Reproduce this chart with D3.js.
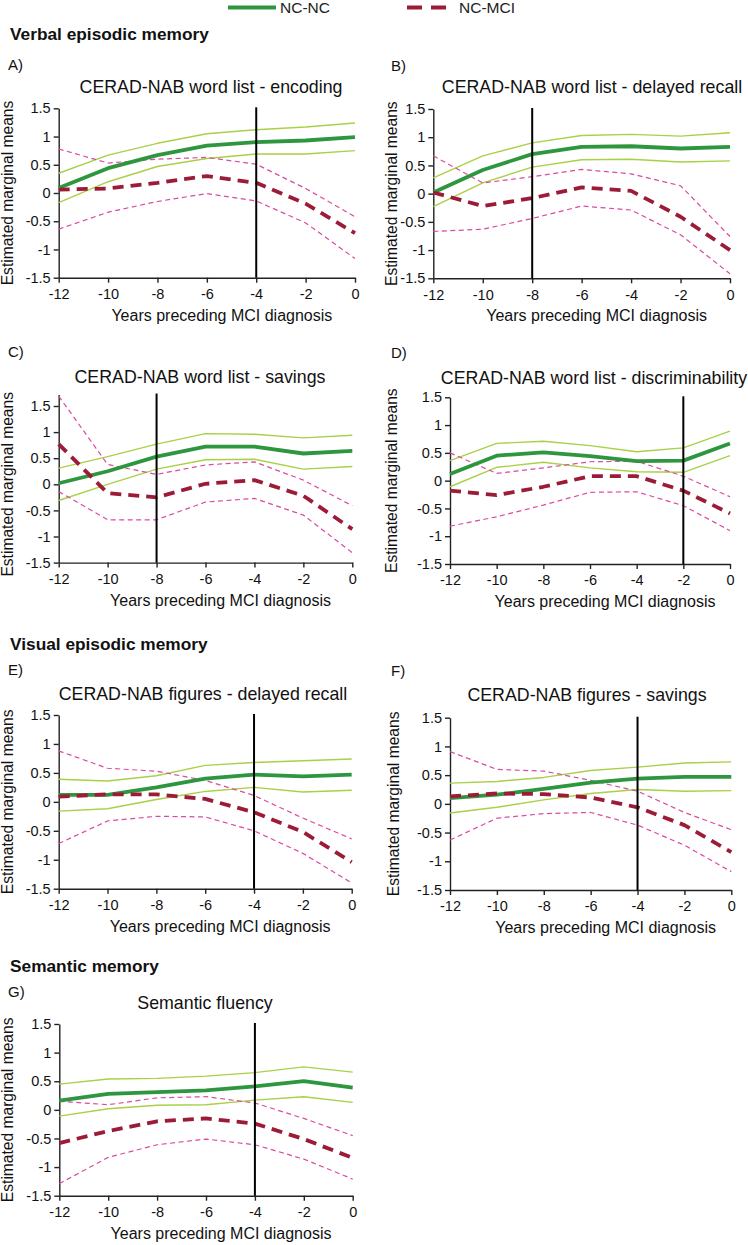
<!DOCTYPE html>
<html>
<head>
<meta charset="utf-8">
<script src="https://cdn.jsdelivr.net/npm/d3@7"></script>
<style>
  html, body { margin: 0; padding: 0; background: #fff; }
  svg { display: block; font-family: "Liberation Sans", Arial, sans-serif; }
</style>
</head>
<body>
<svg id="chart" width="748" height="1245"></svg>
<script>
// ---------- DATA ----------
const years = [-12, -10, -8, -6, -4, -2, 0];
const yTicks = [-1.5, -1, -0.5, 0, 0.5, 1, 1.5];
const xTicks = [-12, -10, -8, -6, -4, -2, 0];
const seriesNames = ["NC-NC", "NC-MCI"];
const sectionTitles = ["Verbal episodic memory", "Visual episodic memory", "Semantic memory"];
const panelLetters = ["A)", "B)", "C)", "D)", "E)", "F)", "G)"];
const panelTitles = [
  "CERAD-NAB word list - encoding",
  "CERAD-NAB word list - delayed recall",
  "CERAD-NAB word list - savings",
  "CERAD-NAB word list - discriminability",
  "CERAD-NAB figures - delayed recall",
  "CERAD-NAB figures - savings",
  "Semantic fluency"
];
const diagnosisYear = [-4, -8, -8, -2, -4, -4, -4];
const xAxisTitle = "Years preceding MCI diagnosis";
const yAxisTitle = "Estimated marginal means";

// A) encoding
const A_ncnc   = [0.09, 0.44, 0.67, 0.84, 0.90, 0.93, 0.99];
const A_ncncHi = [0.35, 0.67, 0.88, 1.05, 1.12, 1.17, 1.24];
const A_ncncLo = [-0.17, 0.20, 0.47, 0.61, 0.69, 0.69, 0.75];
const A_mci    = [0.06, 0.08, 0.18, 0.30, 0.18, -0.19, -0.71];
const A_mciHi  = [0.78, 0.53, 0.60, 0.63, 0.51, 0.08, -0.42];
const A_mciLo  = [-0.64, -0.34, -0.15, -0.01, -0.14, -0.53, -1.16];
// B) delayed recall
const B_ncnc   = [0.02, 0.42, 0.70, 0.83, 0.84, 0.80, 0.83];
const B_ncncHi = [0.28, 0.67, 0.90, 1.03, 1.05, 1.02, 1.08];
const B_ncncLo = [-0.23, 0.19, 0.47, 0.60, 0.61, 0.56, 0.58];
const B_mci    = [0.02, -0.22, -0.08, 0.11, 0.05, -0.41, -1.00];
const B_mciHi  = [0.67, 0.19, 0.30, 0.43, 0.35, 0.14, -0.76];
const B_mciLo  = [-0.67, -0.63, -0.44, -0.22, -0.29, -0.73, -1.42];
// C) savings
const C_ncnc   = [0.02, 0.25, 0.53, 0.72, 0.72, 0.59, 0.64];
const C_ncncHi = [0.31, 0.53, 0.77, 0.97, 0.96, 0.89, 0.94];
const C_ncncLo = [-0.31, 0.00, 0.29, 0.47, 0.48, 0.29, 0.34];
const C_mci    = [0.77, -0.17, -0.25, 0.01, 0.08, -0.22, -0.86];
const C_mciHi  = [1.69, 0.38, 0.19, 0.37, 0.43, 0.08, -0.41];
const C_mciLo  = [-0.14, -0.68, -0.68, -0.34, -0.27, -0.59, -1.31];
// D) discriminability
const D_ncnc   = [0.12, 0.45, 0.51, 0.44, 0.35, 0.36, 0.67];
const D_ncncHi = [0.36, 0.67, 0.71, 0.63, 0.52, 0.59, 0.89];
const D_ncncLo = [-0.11, 0.24, 0.33, 0.23, 0.16, 0.15, 0.45];
const D_mci    = [-0.18, -0.26, -0.11, 0.08, 0.08, -0.18, -0.59];
const D_mciHi  = [0.50, 0.13, 0.23, 0.34, 0.35, 0.08, -0.29];
const D_mciLo  = [-0.82, -0.65, -0.44, -0.21, -0.20, -0.45, -0.90];
// E) figures delayed recall
const E_ncnc   = [0.12, 0.12, 0.25, 0.40, 0.47, 0.44, 0.47];
const E_ncncHi = [0.39, 0.36, 0.45, 0.63, 0.68, 0.71, 0.74];
const E_ncncLo = [-0.16, -0.12, 0.04, 0.18, 0.25, 0.17, 0.20];
const E_mci    = [0.09, 0.13, 0.13, 0.05, -0.18, -0.52, -1.04];
const E_mciHi  = [0.88, 0.58, 0.53, 0.37, 0.11, -0.28, -0.64];
const E_mciLo  = [-0.72, -0.33, -0.25, -0.26, -0.50, -0.89, -1.40];
// F) figures savings
const F_ncnc   = [0.10, 0.16, 0.26, 0.37, 0.44, 0.47, 0.47];
const F_ncncHi = [0.36, 0.39, 0.46, 0.58, 0.64, 0.71, 0.73];
const F_ncncLo = [-0.16, -0.06, 0.07, 0.18, 0.25, 0.22, 0.23];
const F_mci    = [0.13, 0.18, 0.17, 0.11, -0.06, -0.37, -0.84];
const F_mciHi  = [0.91, 0.60, 0.57, 0.41, 0.22, -0.15, -0.45];
const F_mciLo  = [-0.63, -0.25, -0.17, -0.15, -0.37, -0.72, -1.18];
// G) semantic fluency
const G_ncnc   = [0.16, 0.28, 0.31, 0.34, 0.41, 0.50, 0.39];
const G_ncncHi = [0.45, 0.54, 0.55, 0.59, 0.65, 0.75, 0.66];
const G_ncncLo = [-0.11, 0.02, 0.08, 0.09, 0.17, 0.23, 0.13];
const G_mci    = [-0.58, -0.37, -0.20, -0.15, -0.24, -0.51, -0.84];
const G_mciHi  = [0.15, 0.09, 0.21, 0.23, 0.12, -0.15, -0.45];
const G_mciLo  = [-1.29, -0.83, -0.61, -0.51, -0.61, -0.86, -1.21];

// ---------- LAYOUT / STYLE ----------
const panelData = [
  [A_ncnc, A_ncncHi, A_ncncLo, A_mci, A_mciHi, A_mciLo],
  [B_ncnc, B_ncncHi, B_ncncLo, B_mci, B_mciHi, B_mciLo],
  [C_ncnc, C_ncncHi, C_ncncLo, C_mci, C_mciHi, C_mciLo],
  [D_ncnc, D_ncncHi, D_ncncLo, D_mci, D_mciHi, D_mciLo],
  [E_ncnc, E_ncncHi, E_ncncLo, E_mci, E_mciHi, E_mciLo],
  [F_ncnc, F_ncncHi, F_ncncLo, F_mci, F_mciHi, F_mciLo],
  [G_ncnc, G_ncncHi, G_ncncLo, G_mci, G_mciHi, G_mciLo]
];
// plot boxes: x0,x1 (x=-12..0), yLo (pixel for -1.5), yHi (pixel for 1.5), top domain value
const layout = [
  { x0: 58.7, x1: 355,   yLo: 277.7, yHi: 108.3, top: 1.5,  lx: 8,   ly: 70,  tx: 211, ty: 92.5, ylx: 13 },
  { x0: 433.3, x1: 730,  yLo: 278.3, yHi: 109,   top: 1.5,  lx: 391, ly: 71,  tx: 592, ty: 92.5, ylx: 397 },
  { x0: 58.7, x1: 352.3, yLo: 562.6, yHi: 406,   top: 1.72, lx: 8,   ly: 357, tx: 200, ty: 382.5, ylx: 13 },
  { x0: 450,  x1: 730,   yLo: 564,   yHi: 397.3, top: 1.5,  lx: 391, ly: 358, tx: 594, ty: 384, ylx: 397 },
  { x0: 58.7, x1: 351.7, yLo: 888.7, yHi: 715,   top: 1.5,  lx: 8,   ly: 675, tx: 203, ty: 700, ylx: 13 },
  { x0: 450,  x1: 731.3, yLo: 890,   yHi: 717.7, top: 1.5,  lx: 391, ly: 676, tx: 587, ty: 701, ylx: 399 },
  { x0: 59.3, x1: 352.7, yLo: 1195.7, yHi: 1024, top: 1.5,  lx: 8,   ly: 997, tx: 205, ty: 1009, ylx: 13 }
];
const sectionY = [40, 650, 971.5];

const COL_GREEN = "#2f9640";
const COL_LGREEN = "#a9d046";
const COL_RED = "#9c1b37";
const COL_PINK = "#db4aa0";
const AXIS_COL = "#222";

const svg = d3.select("#chart");

// Legend
const legend = svg.append("g");
legend.append("line").attr("x1", 228).attr("x2", 276).attr("y1", 7.5).attr("y2", 7.5)
  .attr("stroke", COL_GREEN).attr("stroke-width", 4);
legend.append("text").attr("x", 280).attr("y", 13).attr("font-size", 15.5).attr("fill", "#222").text(seriesNames[0]);
legend.append("line").attr("x1", 407).attr("x2", 446).attr("y1", 7.5).attr("y2", 7.5)
  .attr("stroke", COL_RED).attr("stroke-width", 4).attr("stroke-dasharray", "15,9");
legend.append("text").attr("x", 459).attr("y", 13).attr("font-size", 15.5).attr("fill", "#222").text(seriesNames[1]);

// Section titles
sectionTitles.forEach((t, i) => {
  svg.append("text").attr("x", 10).attr("y", sectionY[i])
    .attr("font-size", 17.3).attr("font-weight", "bold").attr("fill", "#111").text(t);
});

const fmt = d => String(d);

panelData.forEach((series, i) => {
  const L = layout[i];
  const unit = (L.yLo - L.yHi) / 3;
  const x = d3.scaleLinear().domain([-12, 0]).range([L.x0, L.x1]);
  const y = d3.scaleLinear().domain([-1.5, L.top]).range([L.yLo, L.yLo - unit * (L.top + 1.5)]);
  const g = svg.append("g");

  // letter and title
  g.append("text").attr("x", L.lx).attr("y", L.ly).attr("font-size", 15).attr("fill", "#111").text(panelLetters[i]);
  g.append("text").attr("x", L.tx).attr("y", L.ty).attr("text-anchor", "middle")
    .attr("font-size", 17.8).attr("fill", "#111").text(panelTitles[i]);

  // axes
  const yAxis = d3.axisLeft(y).tickValues(yTicks).tickFormat(fmt).tickSize(5).tickPadding(3).tickSizeOuter(0);
  const xAxis = d3.axisBottom(x).tickValues(xTicks).tickFormat(fmt).tickSize(5).tickPadding(6).tickSizeOuter(0);
  const ya = g.append("g").attr("transform", `translate(${L.x0},0)`).call(yAxis);
  const xa = g.append("g").attr("transform", `translate(0,${L.yLo})`).call(xAxis);
  [ya, xa].forEach(a => {
    a.select(".domain").attr("stroke", AXIS_COL).attr("stroke-width", 1.4);
    a.selectAll(".tick line").attr("stroke", AXIS_COL).attr("stroke-width", 1.4);
    a.selectAll(".tick text").attr("font-size", 14.5).attr("fill", "#111")
      .attr("font-family", '"Liberation Sans", Arial, sans-serif');
  });

  // axis titles
  g.append("text").attr("x", (L.x0 + L.x1) / 2 + 15).attr("y", L.yLo + 43).attr("text-anchor", "middle")
    .attr("font-size", 16).attr("fill", "#111").text(xAxisTitle);
  g.append("text").attr("transform", `translate(${L.ylx},${(L.yLo + y(1.5)) / 2}) rotate(-90)`)
    .attr("text-anchor", "middle").attr("font-size", 15.6).attr("fill", "#111").text(yAxisTitle);

  const line = d3.line().x((d, k) => x(years[k])).y(d => y(d));
  const [nc, ncHi, ncLo, mci, mciHi, mciLo] = series;

  const draw = (arr, color, width, dash) => {
    const p = g.append("path").attr("d", line(arr)).attr("fill", "none")
      .attr("stroke", color).attr("stroke-width", width).attr("stroke-linejoin", "round");
    if (dash) p.attr("stroke-dasharray", dash);
  };
  draw(ncHi, COL_LGREEN, 1.4);
  draw(ncLo, COL_LGREEN, 1.4);
  draw(mciHi, COL_PINK, 1.2, "5,3.5");
  draw(mciLo, COL_PINK, 1.2, "5,3.5");
  draw(nc, COL_GREEN, 3.8);
  draw(mci, COL_RED, 3.8, "11,7");

  // diagnosis marker
  g.append("line").attr("x1", x(diagnosisYear[i])).attr("x2", x(diagnosisYear[i]))
    .attr("y1", y(L.top) - 1).attr("y2", L.yLo)
    .attr("stroke", "#000").attr("stroke-width", 2);
});
</script>
</body>
</html>
